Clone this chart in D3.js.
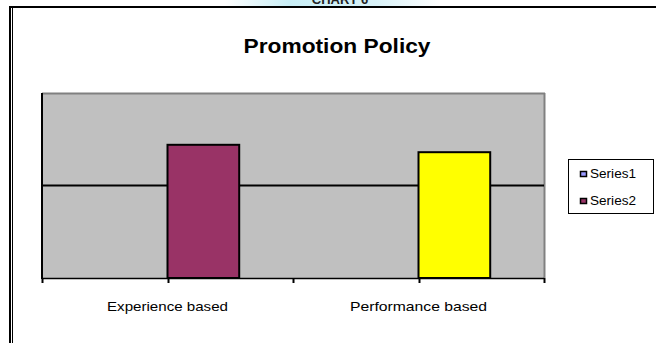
<!DOCTYPE html>
<html><head><meta charset="utf-8">
<script src="https://cdn.jsdelivr.net/npm/d3@7"></script>
<style>html,body{margin:0;padding:0;background:#fff;overflow:hidden}</style>
</head><body>
<svg id="c" width="656" height="343"></svg>
<script>
const categories = ["Experience based", "Performance based"];
const seriesNames = ["Series1", "Series2"];
const series1 = [0, 0];
const series2 = [72, 68];
const yTicks = [0, 50, 100];
const series2PointColors = ["#993366", "#FFFF00"];
const seriesColors = ["#9999FF", "#993366"];

(function(){
const svg = d3.select("#c");
const font = "'Liberation Sans', Arial, sans-serif";

// page frame
const grad = svg.append("defs").append("linearGradient").attr("id","hg").attr("x1","0").attr("x2","1");
grad.append("stop").attr("offset","0").attr("stop-color","#ffffff");
grad.append("stop").attr("offset","0.3").attr("stop-color","#c8eef6");
grad.append("stop").attr("offset","0.7").attr("stop-color","#d8f2f8");
grad.append("stop").attr("offset","1").attr("stop-color","#ffffff");
svg.append("rect").attr("x",225).attr("y",0).attr("width",215).attr("height",7).attr("fill","url(#hg)");
svg.append("text").attr("x",340).attr("y",4).attr("text-anchor","middle")
  .attr("font-family",font).attr("font-weight","bold").attr("font-size",13).attr("fill","#222").text("CHART 6");
svg.append("rect").attr("x",0).attr("y",7).attr("width",656).attr("height",336).attr("fill","#fff");
svg.append("rect").attr("x",9).attr("y",6).attr("width",647).attr("height",2).attr("fill","#000");
svg.append("rect").attr("x",9).attr("y",6).attr("width",2).attr("height",337).attr("fill","#000");
svg.append("rect").attr("x",12).attr("y",8).attr("width",1).attr("height",335).attr("fill","#000");

// title
svg.append("text").attr("x",337).attr("y",53).attr("text-anchor","middle")
  .attr("font-family",font).attr("font-weight","bold").attr("font-size",20)
  .attr("textLength",187).attr("lengthAdjust","spacingAndGlyphs").text("Promotion Policy");

// scales
const pL = 42, pR = 544, pT = 93, pB = 278;
const x = d3.scaleBand().domain(categories).range([pL, pR]).paddingInner(0).paddingOuter(0);
const xs = d3.scaleBand().domain(seriesNames).range([0, x.bandwidth()]).paddingInner(0).paddingOuter(0.75);
const y = d3.scaleLinear().domain([yTicks[0], yTicks[yTicks.length-1]]).range([pB, pT]);

// plot area
svg.append("rect").attr("x",pL).attr("y",pT).attr("width",pR-pL).attr("height",pB-pT).attr("fill","#C0C0C0");
svg.append("line").attr("x1",pL).attr("x2",pR+1).attr("y1",pT+0.5).attr("y2",pT+0.5).attr("stroke","#808080").attr("stroke-width",2);
svg.append("line").attr("x1",pR+0.5).attr("x2",pR+0.5).attr("y1",pT).attr("y2",pB).attr("stroke","#808080").attr("stroke-width",2);

// gridlines
svg.append("g").selectAll("line").data(yTicks.slice(1,-1)).join("line")
  .attr("x1",pL).attr("x2",pR).attr("y1",d=>y(d)).attr("y2",d=>y(d))
  .attr("stroke","#000").attr("stroke-width",2);

// bars
const rows = categories.map((c,i)=>({c, vals:[series1[i], series2[i]], i}));
rows.forEach(r=>{
  r.vals.forEach((v,si)=>{
    if (v <= 0) return;
    const col = si === 1 ? series2PointColors[r.i] : seriesColors[si];
    svg.append("rect")
      .attr("x", x(r.c) + xs(seriesNames[si]))
      .attr("y", y(v))
      .attr("width", xs.bandwidth())
      .attr("height", y(0) - y(v))
      .attr("fill", col).attr("stroke","#000").attr("stroke-width",2);
  });
});

// axes
svg.append("line").attr("x1",pL).attr("x2",pL).attr("y1",pT).attr("y2",pB+1).attr("stroke","#000").attr("stroke-width",2);
const xAxis = d3.axisBottom(x).tickSize(0).tickFormat("");
const gx = svg.append("g").attr("transform",`translate(0,${pB})`).call(xAxis);
gx.select(".domain").attr("stroke","#000").attr("stroke-width",1.5).attr("d",`M${pL},0.5H${pR}`);
gx.selectAll(".tick").remove();
const tickPos = [];
categories.forEach(c=>{ tickPos.push(x(c)); tickPos.push(x(c)+x.bandwidth()/2); });
tickPos.push(x.range()[1]);
gx.selectAll("line.t").data(tickPos).join("line").attr("class","t")
  .attr("x1",d=>Math.round(d)+0.5).attr("x2",d=>Math.round(d)+0.5).attr("y1",0).attr("y2",5)
  .attr("stroke","#000").attr("stroke-width",2);

const labelWidths = [121, 137];
svg.append("g").selectAll("text").data(categories).join("text")
  .attr("x",d=>x(d)+x.bandwidth()/2).attr("y",311).attr("text-anchor","middle")
  .attr("font-family",font).attr("font-size",13)
  .attr("textLength",(d,i)=>labelWidths[i]).attr("lengthAdjust","spacingAndGlyphs")
  .text(d=>d);

// legend
const lg = svg.append("g");
lg.append("rect").attr("x",568.5).attr("y",159.5).attr("width",85).attr("height",54).attr("fill","#fff").attr("stroke","#000");
seriesNames.forEach((s,i)=>{
  const yy = 171.5 + i*27;
  lg.append("rect").attr("x",580.5).attr("y",yy).attr("width",6).attr("height",5).attr("fill",seriesColors[i]).attr("stroke","#000").attr("stroke-width",1.5);
  lg.append("text").attr("x",590).attr("y",yy+6).attr("font-family",font).attr("font-size",12)
    .attr("textLength",46).attr("lengthAdjust","spacingAndGlyphs").text(s);
});
})();
</script>
</body></html>
